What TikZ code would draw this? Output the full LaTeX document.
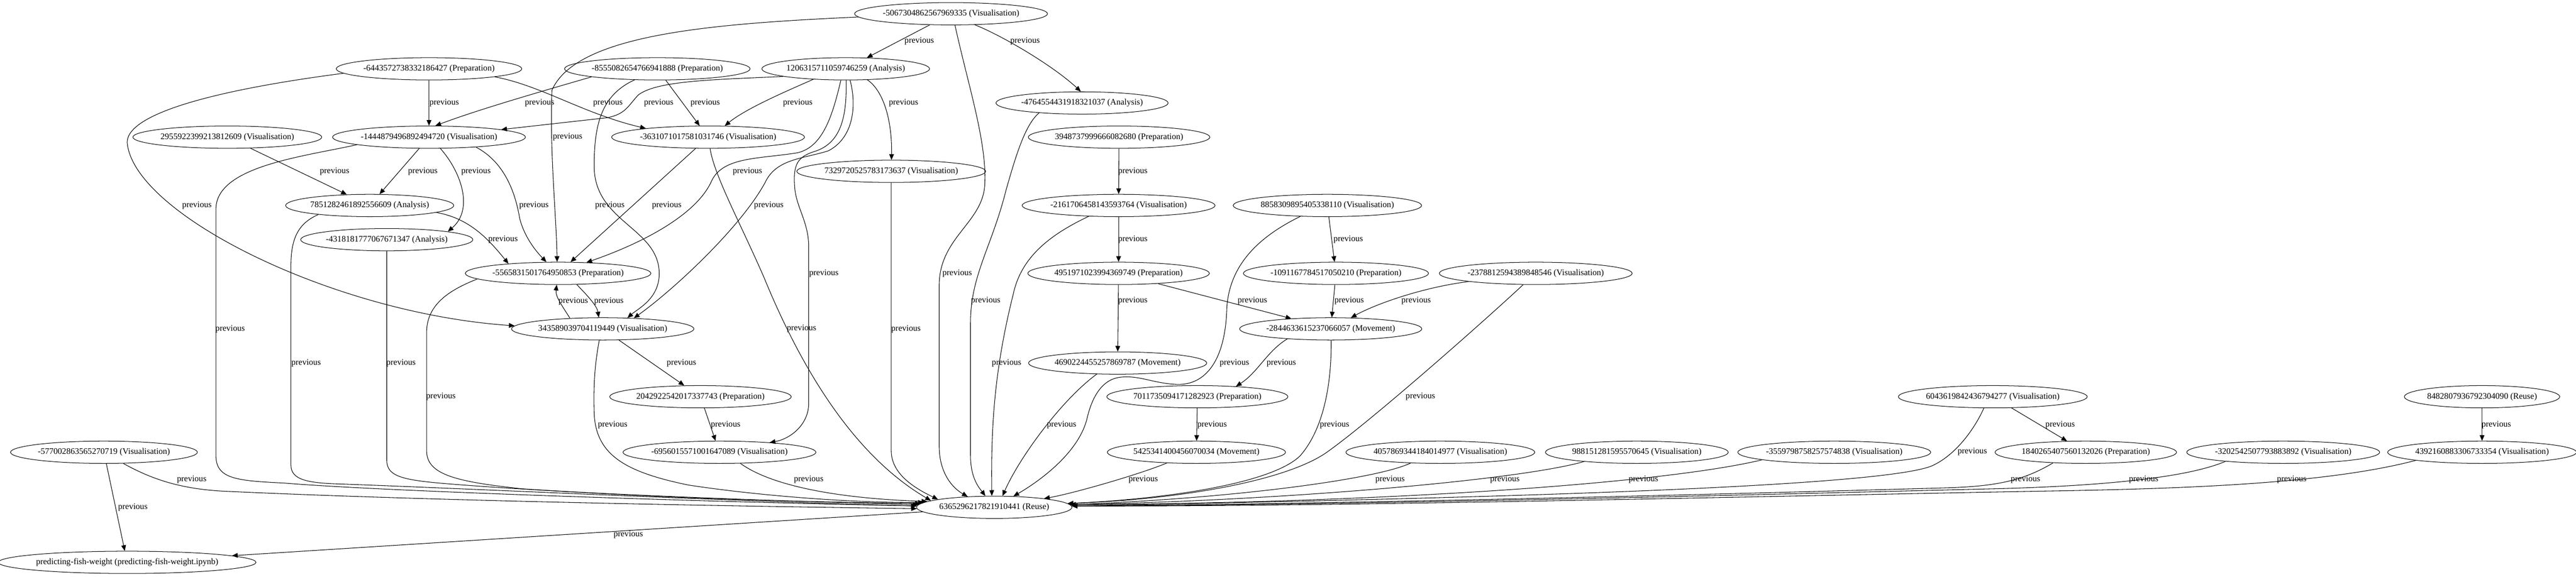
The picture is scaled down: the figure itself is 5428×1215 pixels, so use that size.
\documentclass[tikz,border=0pt]{standalone}
\usepackage{fontspec}
\setmainfont{Liberation Serif}
\usetikzlibrary{shapes.geometric,arrows.meta}
\tikzset{
  nd/.style={draw, ellipse, line width=1.1pt, inner xsep=0pt, inner ysep=0pt, minimum height=47pt, font=\fontsize{18}{21}\selectfont},
  conn/.style={draw, line width=1.15pt, -{Triangle[length=12pt,width=10pt]}},
  lbl/.style={font=\fontsize{18}{21}\selectfont, inner sep=0pt}
}
\begin{document}
\begin{tikzpicture}[x=1pt,y=-1pt]
\useasboundingbox (0,0) rectangle (5428,1215);
% nodes
\node[nd] (A) at (2004,29) {-5067304862567969335 (Visualisation)};
\node[nd] (B) at (904,145) {-6443572738332186427 (Preparation)};
\node[nd] (C) at (1385,145) {-8555082654766941888 (Preparation)};
\node[nd] (D) at (1782,145) {1206315711059746259 (Analysis)};
\node[nd] (E) at (2280,217) {-4764554431918321037 (Analysis)};
\node[nd] (F) at (479,289) {2955922399213812609 (Visualisation)};
\node[nd] (G) at (904,289) {-1444879496892494720 (Visualisation)};
\node[nd] (H) at (1492,289) {-3631071017581031746 (Visualisation)};
\node[nd] (I) at (2358,289) {3948737999666082680 (Preparation)};
\node[nd] (J) at (1878,361) {7329720525783173637 (Visualisation)};
\node[nd] (K) at (779,433) {7851282461892556609 (Analysis)};
\node[nd] (L) at (2357,433) {-2161706458143593764 (Visualisation)};
\node[nd] (M) at (2797,433) {8858309895405338110 (Visualisation)};
\node[nd] (N) at (815,505) {-4318181777067671347 (Analysis)};
\node[nd] (O) at (1176,576) {-5565831501764950853 (Preparation)};
\node[nd] (P) at (2357,576) {4951971023994369749 (Preparation)};
\node[nd] (Q) at (2815,576) {-1091167784517050210 (Preparation)};
\node[nd] (R) at (3236,576) {-2378812594389848546 (Visualisation)};
\node[nd] (S) at (1270,693) {343589039704119449 (Visualisation)};
\node[nd] (T) at (2804,693) {-2844633615237066057 (Movement)};
\node[nd] (U) at (2355,765) {4690224455257869787 (Movement)};
\node[nd] (V) at (1476,836) {2042922542017337743 (Preparation)};
\node[nd] (W) at (2523,836) {7011735094171282923 (Preparation)};
\node[nd] (X) at (4199,836) {6043619842436794277 (Visualisation)};
\node[nd] (Y) at (5230,836) {8482807936792304090 (Reuse)};
\node[nd] (Za) at (219,953) {-577002863565270719 (Visualisation)};
\node[nd] (Zb) at (1516,953) {-6956015571001647089 (Visualisation)};
\node[nd] (Zc) at (2521,953) {5425341400456070034 (Movement)};
\node[nd] (Zd) at (3035,953) {4057869344184014977 (Visualisation)};
\node[nd] (Ze) at (3449,953) {988151281595570645 (Visualisation)};
\node[nd] (Zf) at (3865,953) {-3559798758257574838 (Visualisation)};
\node[nd] (Zg) at (4395,953) {1840265407560132026 (Preparation)};
\node[nd] (Zh) at (4811,953) {-3202542507793883892 (Visualisation)};
\node[nd] (Zi) at (5230,953) {4392160883306733354 (Visualisation)};
\node[nd] (R0) at (2095,1069) {6365296217821910441 (Reuse)};
\node[nd] (PF) at (268,1185) {predicting-fish-weight (predicting-fish-weight.ipynb)};
% edges
\draw[conn] (A) -- (D);
\draw[conn] (A.-25) .. controls (2105,72) and (2215,135) .. (E.96);
\draw[conn] (A.182) .. controls (1500,50) and (1215,72) .. (1163,190) .. controls (1158,320) and (1172,450) .. (O.95);
\draw[conn] (A.-71) .. controls (2040,180) and (2080,300) .. (2075,390) .. controls (2070,470) and (1980,500) .. (1979,600) -- (1979,940) .. controls (1979,1000) and (2010,1030) .. (R0.158);
\draw[conn] (B) -- (G);
\draw[conn] (B.-7) .. controls (1140,180) and (1230,240) .. (H.172);
\draw[conn] (B.183) .. controls (450,190) and (268,240) .. (268,300) .. controls (280,450) and (700,660) .. (S.178);
\draw[conn] (C.187) .. controls (1150,190) and (1010,230) .. (G.61);
\draw[conn] (C) -- (H);
\draw[conn] (C.206) .. controls (1268,200) and (1252,260) .. (1252,350) .. controls (1252,470) and (1392,480) .. (1389,580) .. controls (1387,630) and (1345,650) .. (S.24);
\draw[conn] (D.187) .. controls (1500,168) and (1385,170) .. (1345,200) .. controls (1322,225) and (1318,240) .. (1280,248) -- (G.6);
\draw[conn] (D.198) .. controls (1650,195) and (1570,230) .. (H.34);
\draw[conn] (D.-27) .. controls (1860,190) and (1880,250) .. (J);
\draw[conn] (D.247) .. controls (1755,240) and (1735,310) .. (1680,322) .. controls (1600,335) and (1525,330) .. (1500,380) .. controls (1470,450) and (1360,510) .. (O.21);
\draw[conn] (D.-69) .. controls (1805,220) and (1800,290) .. (1745,318) .. controls (1690,335) and (1635,335) .. (1612,385) .. controls (1560,480) and (1420,610) .. (S.19);
\draw[conn] (D.-88) .. controls (1785,250) and (1770,300) .. (1720,318) .. controls (1680,330) and (1670,345) .. (1675,400) .. controls (1680,440) and (1704,470) .. (1704,520) -- (1704,850) .. controls (1704,895) and (1665,925) .. (Zb.11);
\draw[conn] (E.193) .. controls (2160,262) and (2140,330) .. (2120,400) .. controls (2090,520) and (2045,580) .. (2045,680) -- (2045,960) .. controls (2045,1010) and (2065,1030) .. (R0.128);
\draw[conn] (F) -- (K);
\draw[conn] (G) -- (K);
\draw[conn] (G.-45) .. controls (970,360) and (1000,440) .. (N.north east);
\draw[conn] (G.-12) .. controls (1060,340) and (1085,400) .. (1095,460) .. controls (1105,500) and (1130,530) .. (O.136);
\draw[conn] (G.186) .. controls (640,330) and (456,350) .. (455,440) -- (455,960) .. controls (455,1010) and (500,1013) .. (600,1018) .. controls (800,1035) and (1500,1058) .. (R0.179);
\draw[conn] (H) -- (O);
\draw[conn] (H.-80) .. controls (1505,370) and (1560,470) .. (1610,585) .. controls (1690,780) and (1800,960) .. (R0.174);
\draw[conn] (I) -- (L);
\draw[conn] (J) -- (1878,950) .. controls (1878,1000) and (1930,1030) .. (R0.172);
\draw[conn] (K.-6) .. controls (990,460) and (1030,505) .. (O.169);
\draw[conn] (K.190) .. controls (630,470) and (613,500) .. (613,560) -- (613,980) .. controls (613,1012) and (650,1018) .. (720,1020) .. controls (1000,1030) and (1500,1055) .. (R0.179);
\draw[conn] (L) -- (P);
\draw[conn] (L.200) .. controls (2200,500) and (2150,550) .. (2135,620) .. controls (2095,780) and (2088,900) .. (R0.102);
\draw[conn] (M) -- (Q);
\draw[conn] (M.202) .. controls (2650,500) and (2590,560) .. (2585,650) .. controls (2582,760) and (2540,812) .. (2480,810) .. controls (2430,808) and (2400,790) .. (2360,795) .. controls (2320,800) and (2300,840) .. (2290,884) .. controls (2270,960) and (2180,1020) .. (R0.30);
\draw[conn] (N) -- (815,970) .. controls (815,1005) and (850,1012) .. (950,1020) .. controls (1200,1040) and (1600,1055) .. (R0.178);
\draw[conn] (O.-31) .. controls (1240,625) and (1258,645) .. (S.109);
\draw[conn] (O.184) .. controls (950,610) and (899,640) .. (899,700) -- (899,950) .. controls (899,1000) and (960,1015) .. (1100,1030) .. controls (1400,1050) and (1700,1058) .. (R0.177);
\draw[conn] (P) -- (U);
\draw[conn] (P) -- (T);
\draw[conn] (Q) -- (T);
\draw[conn] (R.187) .. controls (3000,605) and (2900,640) .. (T);
\draw[conn] (R.222) .. controls (3140,665) and (2900,878) .. (2800,950) .. controls (2720,1010) and (2500,1052) .. (R0.3);
\draw[conn] (S.162) .. controls (1185,645) and (1170,625) .. (O);
\draw[conn] (S) -- (V);
\draw[conn] (S.253) .. controls (1255,760) and (1250,800) .. (1252,870) .. controls (1255,960) and (1320,995) .. (1450,1022) .. controls (1600,1045) and (1800,1060) .. (R0.176);
\draw[conn] (T.193) .. controls (2670,740) and (2650,785) .. (W.15);
\draw[conn] (T.-88) .. controls (2806,800) and (2792,900) .. (2740,960) .. controls (2680,1020) and (2450,1052) .. (R0.3);
\draw[conn] (U.208) .. controls (2240,840) and (2150,960) .. (R0.54);
\draw[conn] (V) -- (Zb);
\draw[conn] (W) -- (Zc);
\draw[conn] (X) -- (Zg);
\draw[conn] (X.232) .. controls (4160,905) and (4120,960) .. (4070,982) .. controls (3950,1030) and (3000,1052) .. (R0.1);
\draw[conn] (Y) -- (Zi);
\draw[conn] (Za.-30) .. controls (320,1010) and (380,1030) .. (470,1035) .. controls (900,1055) and (1500,1066) .. (R0.181);
\draw[conn] (Za) -- (PF);
\draw[conn] (Zb.-28) .. controls (1620,1020) and (1750,1050) .. (R0.175);
\draw[conn] (Zc.200) .. controls (2400,1000) and (2260,1040) .. (R0.10);
\draw[conn] (Zd.200) .. controls (2900,1010) and (2600,1050) .. (R0.2);
\draw[conn] (Ze.190) .. controls (3200,1012) and (2700,1055) .. (R0.2);
\draw[conn] (Zf.186) .. controls (3500,1020) and (2900,1060) .. (R0.2);
\draw[conn] (Zg.198) .. controls (4260,1015) and (4200,1025) .. (4100,1028) .. controls (3500,1045) and (2800,1062) .. (R0.1);
\draw[conn] (Zh.189) .. controls (4600,1010) and (4400,1025) .. (4200,1030) .. controls (3600,1045) and (2800,1065) .. (R0.1);
\draw[conn] (Zi.187) .. controls (4900,1020) and (4600,1030) .. (4300,1035) .. controls (3600,1048) and (2800,1068) .. (R0.1);
\draw[conn] (R0) -- (PF);
% labels
\node[lbl] (l01) at (1937,87) {previous};
\node[lbl] (l02) at (2160,87) {previous};
\node[lbl] (l03) at (1196,289) {previous};
\node[lbl] (l04) at (2017,576) {previous};
\node[lbl] (l05) at (936,217) {previous};
\node[lbl] (l06) at (1281,217) {previous};
\node[lbl] (l07) at (415,433) {previous};
\node[lbl] (l08) at (1137,217) {previous};
\node[lbl] (l09) at (1486,217) {previous};
\node[lbl] (l10) at (1285,433) {previous};
\node[lbl] (l11) at (1388,217) {previous};
\node[lbl] (l12) at (1681,217) {previous};
\node[lbl] (l13) at (1904,217) {previous};
\node[lbl] (l14) at (1575,361) {previous};
\node[lbl] (l15) at (1620,433) {previous};
\node[lbl] (l16) at (1736,576) {previous};
\node[lbl] (l17) at (2077,634) {previous};
\node[lbl] (l18) at (705,361) {previous};
\node[lbl] (l19) at (891,361) {previous};
\node[lbl] (l20) at (1003,361) {previous};
\node[lbl] (l21) at (1125,433) {previous};
\node[lbl] (l22) at (485,693) {previous};
\node[lbl] (l23) at (1405,433) {previous};
\node[lbl] (l24) at (1689,692) {previous};
\node[lbl] (l25) at (2387,361) {previous};
\node[lbl] (l26) at (1909,693) {previous};
\node[lbl] (l27) at (1060,505) {previous};
\node[lbl] (l28) at (645,765) {previous};
\node[lbl] (l29) at (2387,505) {previous};
\node[lbl] (l30) at (2121,765) {previous};
\node[lbl] (l31) at (2841,505) {previous};
\node[lbl] (l32) at (2601,765) {previous};
\node[lbl] (l33) at (845,765) {previous};
\node[lbl] (l34) at (1283,635) {previous};
\node[lbl] (l35) at (929,836) {previous};
\node[lbl] (l36) at (2387,634) {previous};
\node[lbl] (l37) at (2639,634) {previous};
\node[lbl] (l38) at (2843,634) {previous};
\node[lbl] (l39) at (2984,634) {previous};
\node[lbl] (l40) at (2993,836) {previous};
\node[lbl] (l41) at (1208,635) {previous};
\node[lbl] (l42) at (1436,765) {previous};
\node[lbl] (l43) at (1291,895) {previous};
\node[lbl] (l44) at (2700,765) {previous};
\node[lbl] (l45) at (2812,895) {previous};
\node[lbl] (l46) at (2237,895) {previous};
\node[lbl] (l47) at (1529,895) {previous};
\node[lbl] (l48) at (2554,895) {previous};
\node[lbl] (l49) at (4341,895) {previous};
\node[lbl] (l50) at (4156,952) {previous};
\node[lbl] (l51) at (5260,895) {previous};
\node[lbl] (l52) at (404,1010) {previous};
\node[lbl] (l53) at (280,1069) {previous};
\node[lbl] (l54) at (1704,1010) {previous};
\node[lbl] (l55) at (2409,1010) {previous};
\node[lbl] (l56) at (2929,1010) {previous};
\node[lbl] (l57) at (3171,1010) {previous};
\node[lbl] (l58) at (3463,1010) {previous};
\node[lbl] (l59) at (4268,1010) {previous};
\node[lbl] (l60) at (4517,1010) {previous};
\node[lbl] (l61) at (4829,1010) {previous};
\node[lbl] (l62) at (1324,1127) {previous};
\end{tikzpicture}
\end{document}
